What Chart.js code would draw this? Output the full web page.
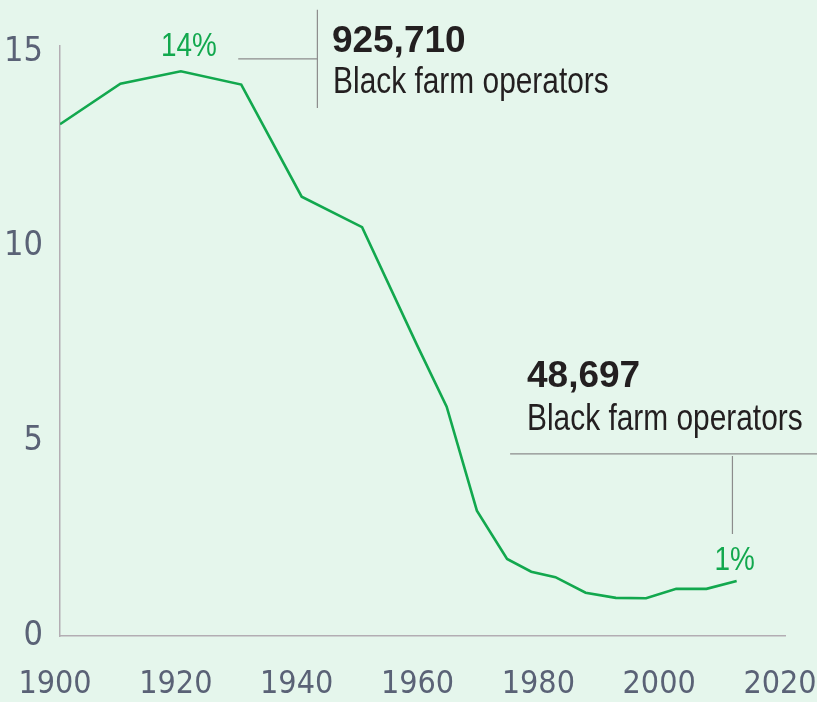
<!DOCTYPE html>
<html>
<head>
<meta charset="utf-8">
<script src="https://cdn.jsdelivr.net/npm/chart.js@4/dist/chart.umd.min.js"></script>
<style>
html,body{margin:0;padding:0;background:#e5f6ec;}
#wrap{width:817px;height:702px;}
</style>
</head>
<body>
<div id="wrap"><canvas id="chart" width="817" height="702"></canvas></div>
<script>
// share of farm operators who are Black, percent
const years = [1900,1910,1920,1930,1940,1950,1959,1964,1969,1974,1978,1982,1987,1992,1997,2002,2007,2012];
const share = [13.14,14.18,14.5,14.16,11.28,10.5,7.5,5.89,3.22,1.98,1.65,1.51,1.11,0.98,0.97,1.21,1.21,1.41];
const xTicks = [1900,1920,1940,1960,1980,2000,2020];
const yTicks = [0,5,10,15];

const green = "#12a84e";
const tickColor = "#5a6276";
const inkColor = "#231f20";
const condensed = "'DejaVu Sans Condensed', 'DejaVu Sans', sans-serif";
const sans = "'Liberation Sans', Arial, sans-serif";

const points = years.map((y,i)=>({x:y,y:share[i]}));

// narrow text: Liberation Sans squeezed sideways
function narrowText(c, txt, x, y, sx, align){
c.save();
c.translate(x, y);
c.scale(sx, 1);
c.textAlign = align;
c.fillText(txt, 0, 0);
c.restore();
}

// ---------- ANNOTATIONS ----------
const notes = {
id:"notes",
afterDraw(chart){
const c = chart.ctx;
const xs = chart.scales.x;
const ys = chart.scales.y;
const X = v=>xs.getPixelForValue(v);
const Y = v=>ys.getPixelForValue(v);
const first = share[2];
const last = share[share.length-1];

c.save();
c.textBaseline = "alphabetic";

// percent labels
c.fillStyle = green;
c.font = "34px " + sans;
narrowText(c, "14%", X(years[2])+8, Y(first)-15, 0.82, "center");
narrowText(c, "1%", X(years[years.length-1])-2, Y(last)-11, 0.82, "center");

// leader lines
c.strokeStyle = "#8c8c8c";
c.lineWidth = 1.2;
c.beginPath();
c.moveTo(X(1929.5), Y(14.82));
c.lineTo(X(1942.6), Y(14.82));
c.moveTo(X(1942.6), Y(16.08));
c.lineTo(X(1942.6), Y(13.56));
c.moveTo(X(1974.5), Y(4.675));
c.lineTo(chart.width, Y(4.675));
c.moveTo(X(2011.3), Y(4.62));
c.lineTo(X(2011.3), Y(2.62));
c.stroke();

// text blocks
c.fillStyle = inkColor;
c.font = "bold 37px " + sans;
narrowText(c, "925,710", X(1945), Y(15.0), 1, "left");
narrowText(c, "48,697", X(1977.3), Y(6.4), 1, "left");
c.font = "36px " + sans;
narrowText(c, "Black farm operators", X(1945.2), Y(13.95), 0.83, "left");
narrowText(c, "Black farm operators", X(1977.3), Y(5.29), 0.83, "left");
c.restore();
}
};

const bg = {
id:"bg",
beforeDraw(chart){
const c = chart.ctx;
c.save();
c.fillStyle = "#e5f6ec";
c.fillRect(0,0,chart.width,chart.height);
c.restore();
}
};

const ctx = document.getElementById("chart").getContext("2d");

const chart = new Chart(ctx,{
type:"line",
data:{
datasets:[
{
label:"Share",
data:points,
borderColor:green,
borderWidth:2.6,
pointRadius:0,
tension:0,
fill:false
}
]
},
options:{
responsive:false,
animation:false,
layout:{padding:{top:46,right:32,left:0,bottom:0}},
plugins:{legend:{display:false},tooltip:{enabled:false}},
scales:{
x:{
type:"linear",
min:1900,
max:2020,
afterBuildTicks:s=>{s.ticks = xTicks.map(v=>({value:v}));},
afterFit:s=>{s.height = 66; s.paddingLeft = 0; s.paddingRight = 0;},
grid:{display:false,drawTicks:false},
border:{display:true,color:"#b3adb3",width:1.5},
ticks:{color:tickColor,font:{family:condensed,size:32},padding:29,labelOffset:-5,maxRotation:0,callback:v=>String(v)}
},
y:{
min:0,
max:15.15,
afterBuildTicks:s=>{s.ticks = yTicks.map(v=>({value:v}));},
afterFit:s=>{s.width = 60; s.paddingTop = 0; s.paddingBottom = 0;},
grid:{display:false,drawTicks:false},
border:{display:true,color:"#b3adb3",width:1.5},
ticks:{color:tickColor,font:{family:condensed,size:34},padding:17}
}
}
},
plugins:[bg,notes]
});
</script>
</body>
</html>
